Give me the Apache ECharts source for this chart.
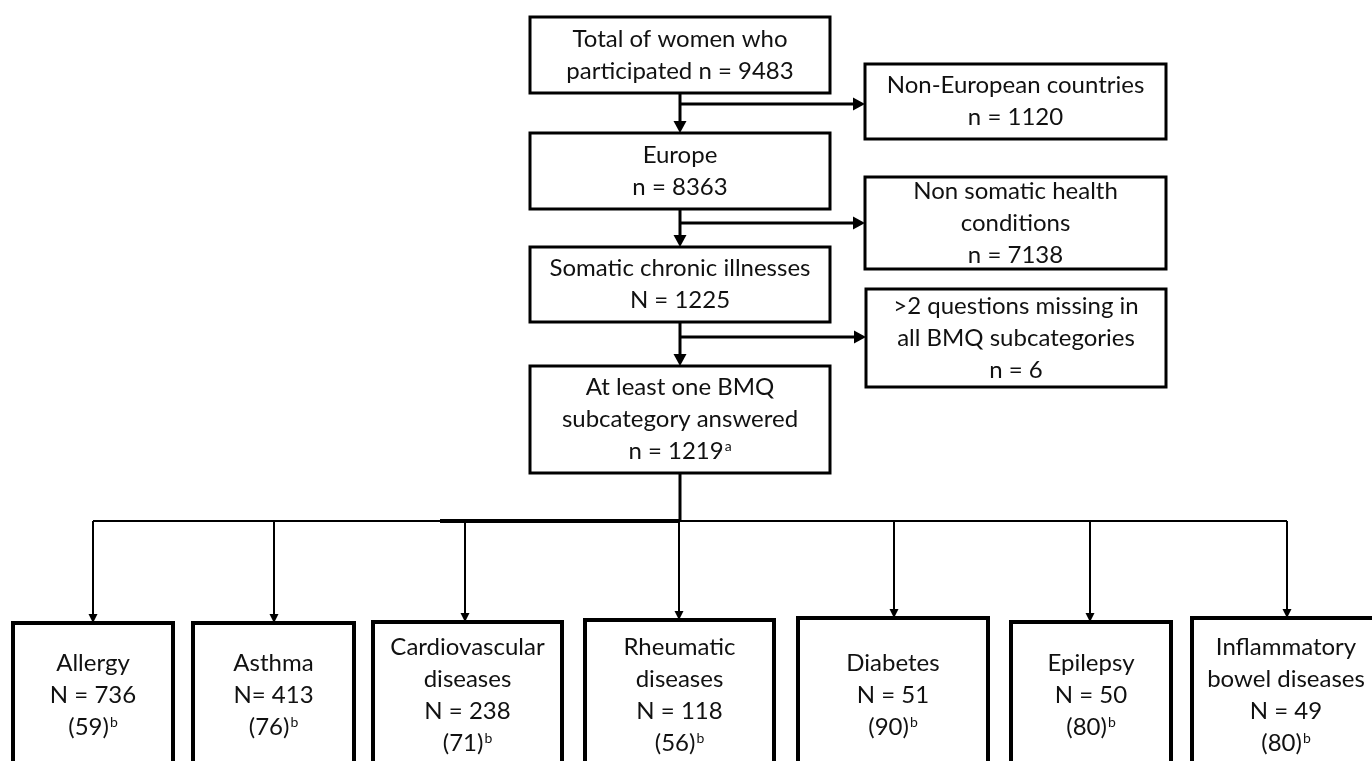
<!DOCTYPE html>
<html>
<head>
    <meta charset="utf-8">
    <title>Flow of participants</title>
    <script src="https://cdn.jsdelivr.net/npm/echarts@6/dist/echarts.min.js"></script>
    <style>
        html, body { margin: 0; padding: 0; background: #fff; }
        #chart1 { width: 1372px; height: 761px; }
    </style>
</head>
<body>
<div id="chart1"></div>
<script type="text/javascript">
    // ---- data ----
    // middle column
    var mainNames = ['Total of women who\nparticipated', 'Europe', 'Somatic chronic illnesses', 'At least one BMQ\nsubcategory answered'];
    var mainSymbols = ['n', 'n', 'N', 'n'];
    var mainCounts = [9483, 8363, 1225, 1219];
    var mainNotes = ['', '', '', 'a'];

    // excluded on the right
    var exclNames = ['Non-European countries', 'Non somatic health\nconditions', '>2 questions missing in\nall BMQ subcategories'];
    var exclCounts = [1120, 7138, 6];

    // illness groups at the bottom
    var groupNames = ['Allergy', 'Asthma', 'Cardiovascular\ndiseases', 'Rheumatic\ndiseases', 'Diabetes', 'Epilepsy', 'Inflammatory\nbowel diseases'];
    var groupEq = ['N = ', 'N= ', 'N = ', 'N = ', 'N = ', 'N = ', 'N = '];
    var groupCounts = [736, 413, 238, 118, 51, 50, 49];
    var groupPercents = [59, 76, 71, 56, 90, 80, 80];
    var groupNote = 'b';

    // ---- layout (pixels on a 1372 x 761 axis space) ----
    var mainBoxes = [[530, 17, 830, 93], [530, 133, 830, 209], [530, 247, 830, 322], [530, 366, 830, 473]];
    var mainX = 680;
    var exclBoxes = [[865, 64, 1166, 139], [865, 177, 1166, 269], [866, 289, 1166, 387]];
    var branchY = [104, 223, 337];
    var groupBoxes = [[13, 623, 173], [193, 623, 354], [373, 622, 562], [585, 620, 774], [798, 618, 988], [1011, 622, 1171], [1192, 618, 1380]];
    var groupArrowX = [93, 274, 465, 679, 894, 1090, 1287];
    var busY = 521;
    var groupTextY = 695;

    // build box list
    var boxes = [];
    mainNames.forEach(function (name, i) {
        var sep = i === 0 ? ' ' : '\n';
        var txt = name + sep + mainSymbols[i] + ' = ' + mainCounts[i] + (mainNotes[i] ? '{sup|' + mainNotes[i] + '}' : '');
        var b = mainBoxes[i];
        boxes.push({ box: b, text: txt, lw: 3, ty: (b[1] + b[3]) / 2 });
    });
    exclNames.forEach(function (name, i) {
        var b = exclBoxes[i];
        boxes.push({ box: b, text: name + '\nn = ' + exclCounts[i], lw: 3, ty: (b[1] + b[3]) / 2 });
    });
    groupNames.forEach(function (name, i) {
        var g = groupBoxes[i];
        var txt = name + '\n' + groupEq[i] + groupCounts[i] + '\n(' + groupPercents[i] + '){sup|' + groupNote + '}';
        boxes.push({ box: [g[0], g[1], g[2], 775], text: txt, lw: 4, ty: groupTextY });
    });

    // build connector list
    var edges = [];
    for (var i = 0; i < mainBoxes.length - 1; i++) {
        edges.push({ pts: [[mainX, mainBoxes[i][3]], [mainX, mainBoxes[i + 1][1]]], lw: 3, head: [12, 13] });
        edges.push({ pts: [[mainX, branchY[i]], [exclBoxes[i][0], branchY[i]]], lw: 3, head: [12, 13] });
    }
    edges.push({ pts: [[mainX, mainBoxes[3][3]], [mainX, busY]], lw: 3, head: null });
    edges.push({ pts: [[groupArrowX[0], busY], [groupArrowX[groupArrowX.length - 1], busY]], lw: 2, head: null });
    edges.push({ pts: [[440, busY], [mainX, busY]], lw: 4, head: null });
    groupArrowX.forEach(function (x, i) {
        edges.push({ pts: [[x, busY], [x, groupBoxes[i][1]]], lw: 2, head: [9, 9] });
    });

    var fontFamily = 'Lato';

    var myChart1 = echarts.init(document.getElementById('chart1'));
    myChart1.setOption({
        animation: false,
        grid: { left: 0, right: 0, top: 0, bottom: 0 },
        xAxis: { type: 'value', min: 0, max: 1372, show: false },
        yAxis: { type: 'value', min: 0, max: 761, inverse: true, show: false },
        series: [{
            type: 'custom',
            coordinateSystem: 'cartesian2d',
            data: edges.map(function (e) { return [e.pts[0][0], e.pts[0][1]]; }),
            renderItem: function (params, api) {
                var e = edges[params.dataIndex];
                var pts = e.pts.map(function (p) { return api.coord(p); });
                var children = [];
                if (e.head) {
                    var a = pts[pts.length - 2], b = pts[pts.length - 1];
                    var dx = b[0] - a[0], dy = b[1] - a[1];
                    var len = Math.sqrt(dx * dx + dy * dy);
                    var ux = dx / len, uy = dy / len;
                    var bx = b[0] - ux * e.head[0], by = b[1] - uy * e.head[0];
                    var hw = e.head[1] / 2;
                    children.push({
                        type: 'polygon',
                        shape: { points: [[b[0], b[1]], [bx - uy * hw, by + ux * hw], [bx + uy * hw, by - ux * hw]] },
                        style: { fill: '#000' }
                    });
                    pts = pts.slice(0, -1).concat([[bx + ux * 1, by + uy * 1]]);
                }
                children.unshift({
                    type: 'polyline',
                    shape: { points: pts },
                    style: { stroke: '#000', lineWidth: e.lw, fill: null }
                });
                return { type: 'group', children: children };
            },
            z: 1
        }, {
            type: 'custom',
            coordinateSystem: 'cartesian2d',
            data: boxes.map(function (b) { return b.box; }),
            renderItem: function (params, api) {
                var b = boxes[params.dataIndex];
                var p0 = api.coord([api.value(0), api.value(1)]);
                var p1 = api.coord([api.value(2), api.value(3)]);
                var ty = api.coord([0, b.ty])[1];
                return {
                    type: 'group',
                    children: [{
                        type: 'rect',
                        shape: { x: p0[0], y: p0[1], width: p1[0] - p0[0], height: p1[1] - p0[1] },
                        style: { fill: '#fff', stroke: '#000', lineWidth: b.lw }
                    }, {
                        type: 'text',
                        style: {
                            text: b.text,
                            x: (p0[0] + p1[0]) / 2,
                            y: ty,
                            align: 'center',
                            verticalAlign: 'middle',
                            fontFamily: fontFamily,
                            fontSize: 24,
                            lineHeight: 32,
                            fill: '#111',
                            rich: {
                                sup: { fontFamily: fontFamily, fontSize: 14, verticalAlign: 'top', padding: [4, 0, 0, 1], fill: '#111' }
                            }
                        }
                    }]
                };
            },
            z: 2
        }]
    });
</script>
</body>
</html>
